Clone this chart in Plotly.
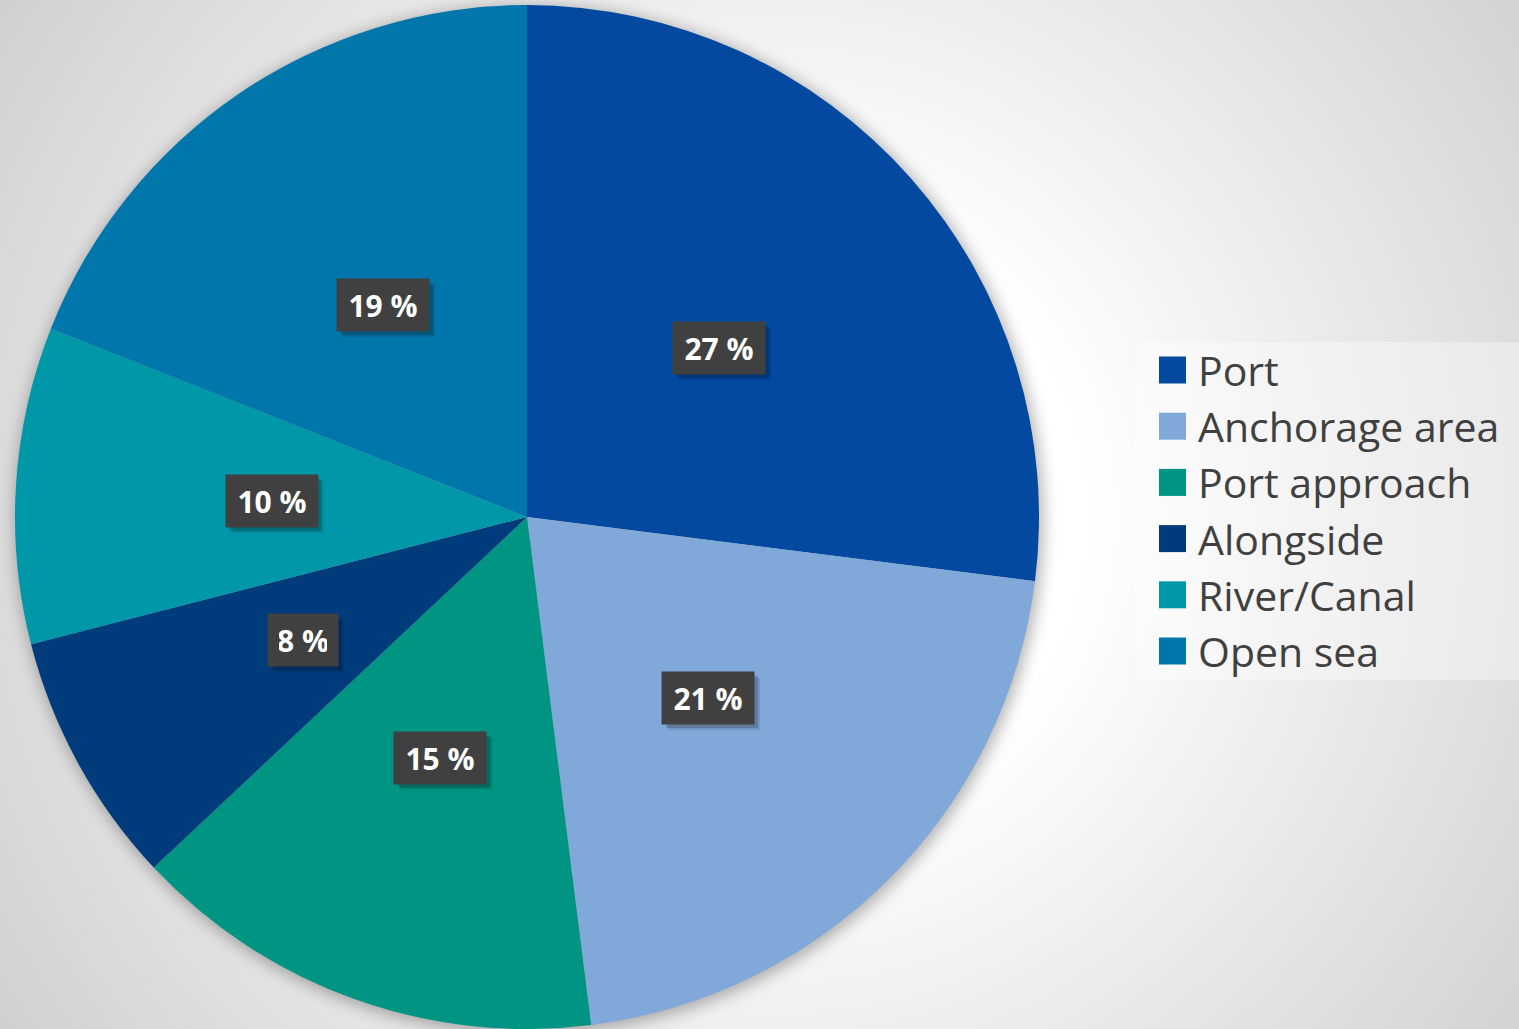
import math
import base64
import plotly.graph_objects as go

# ---- data ----
categories = ["Port", "Anchorage area", "Port approach", "Alongside", "River/Canal", "Open sea"]
values = [27, 21, 15, 8, 10, 19]
colors = ["#0349A0", "#80A8D9", "#009482", "#003B7B", "#0098A8", "#0076AA"]
label_texts = [f"{v} %" for v in values]

# ---- layout constants ----
W, H = 1519, 1029
CX, CY, R = 527, 517, 512          # pie centre / radius in pixels
FONT = "'Open Sans', Lato, sans-serif"
LBL_SIZE, LBL_PAD, LBL_H = 30, 11, 30

# background: radial gradient + soft pie shadow, as an inline SVG image
svg = f"""<svg xmlns="http://www.w3.org/2000/svg" width="{W}" height="{H}" viewBox="0 0 {W} {H}">
<defs>
<radialGradient id="g" cx="780" cy="515" r="930" gradientUnits="userSpaceOnUse">
<stop offset="0" stop-color="#ffffff"/>
<stop offset="0.32" stop-color="#ffffff"/>
<stop offset="1" stop-color="#d0d0d0"/>
</radialGradient>
<filter id="b" x="-20%" y="-20%" width="140%" height="140%"><feGaussianBlur stdDeviation="8"/></filter>
</defs>
<rect x="0" y="0" width="{W}" height="{H}" fill="url(#g)"/>
<circle cx="{CX+2}" cy="{CY+3}" r="{R+2}" fill="#000" opacity="0.3" filter="url(#b)"/>
</svg>"""
svg_uri = "data:image/svg+xml;base64," + base64.b64encode(svg.encode()).decode()

fig = go.Figure()
fig.add_trace(go.Pie(
    labels=categories,
    values=values,
    marker=dict(colors=colors, line=dict(width=0)),
    sort=False,
    direction="clockwise",
    rotation=0,
    textinfo="none",
    showlegend=False,
    domain=dict(x=[(CX - R) / W, (CX + R) / W], y=[max(0, 1 - (CY + R) / H), 1 - (CY - R) / H]),
))

annotations = []
shapes = []
# data labels: dark boxes at half radius, mid-angle of each slice
total = sum(values)
cum = 0
for v, t in zip(values, label_texts):
    mid = (cum + v / 2) / total * 2 * math.pi
    cum += v
    px = CX + 0.5 * R * math.sin(mid)
    py = CY - 0.5 * R * math.cos(mid)
    tw = 70 if len(str(v)) == 2 else 48
    bw, bh = tw + 2 * LBL_PAD, LBL_H + 2 * LBL_PAD
    # soft shadow behind the box
    for k, a in ((6, 0.10), (4, 0.18)):
        shapes.append(dict(type="rect", xref="paper", yref="paper",
                           x0=(px - bw / 2 + k) / W, x1=(px + bw / 2 + k) / W,
                           y0=1 - (py + bh / 2 + k) / H, y1=1 - (py - bh / 2 + k) / H,
                           fillcolor=f"rgba(0,0,0,{a})", line=dict(width=0), layer="above"))
    annotations.append(dict(x=px / W, y=1 - py / H, xref="paper", yref="paper", text=t,
                            showarrow=False, xanchor="center", yanchor="middle",
                            width=tw, height=LBL_H, borderpad=LBL_PAD,
                            font=dict(family=FONT, size=LBL_SIZE, color="white", weight="bold"),
                            bgcolor="#404040"))

# custom legend
LEG_X0, LEG_TOP, LEG_BOTTOM = 1135, 342, 680
shapes.append(dict(type="rect", xref="paper", yref="paper",
                   x0=LEG_X0 / W, x1=1, y0=1 - LEG_BOTTOM / H, y1=1 - LEG_TOP / H,
                   fillcolor="rgba(255,255,255,0.35)", line=dict(width=0), layer="below"))
ROW0, STEP, SQ = 370, 56.2, 27
for i, (c, col) in enumerate(zip(categories, colors)):
    yc = ROW0 + i * STEP
    shapes.append(dict(type="rect", xref="paper", yref="paper",
                       x0=1159 / W, x1=(1159 + SQ) / W,
                       y0=1 - (yc + SQ / 2) / H, y1=1 - (yc - SQ / 2) / H,
                       fillcolor=col, line=dict(width=0)))
    annotations.append(dict(x=1196 / W, y=1 - yc / H, xref="paper", yref="paper",
                            xanchor="left", yanchor="middle", text=c, showarrow=False,
                            font=dict(family=FONT, size=41, color="#404040")))

fig.update_layout(
    width=W, height=H,
    margin=dict(l=0, r=0, t=0, b=0),
    paper_bgcolor="#dedede",
    plot_bgcolor="rgba(0,0,0,0)",
    images=[dict(source=svg_uri, xref="paper", yref="paper", x=0, y=1, sizex=1, sizey=1,
                 xanchor="left", yanchor="top", sizing="stretch", layer="below")],
    annotations=annotations,
    shapes=shapes,
    xaxis=dict(visible=False), yaxis=dict(visible=False),
)

fig.write_html("out.html", config={"displayModeBar": False},
               post_script="document.body.style.margin='0';document.body.style.overflow='hidden';")
